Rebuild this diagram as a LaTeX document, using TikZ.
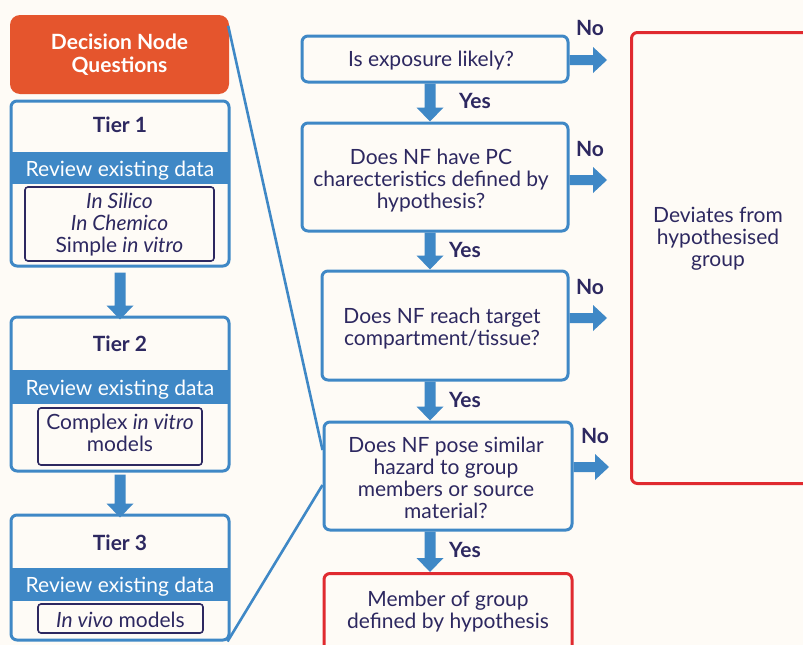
\documentclass[tikz,border=0pt]{standalone}
\usepackage{fontspec}
\setmainfont{Lato}
\usetikzlibrary{calc}
\definecolor{bg}{HTML}{FEFBF6}
\definecolor{blu}{HTML}{3F88C6}
\definecolor{org}{HTML}{E5552D}
\definecolor{rd}{HTML}{E02A2F}
\definecolor{nv}{HTML}{2D2860}

% block arrow pointing down, from #1 to the tip at #2
\newcommand{\blkdown}[2]{%
  \fill[blu] let \p1=(#1), \p2=(#2) in
    (\x1-5.5pt,\y1) -- (\x1+5.5pt,\y1) -- (\x1+5.5pt,\y2+14pt) -- (\x1+13.5pt,\y2+14pt)
    -- (\x1,\y2) -- (\x1-13.5pt,\y2+14pt) -- (\x1-5.5pt,\y2+14pt) -- cycle;}
% block arrow pointing right, from #1 to the tip at #2
\newcommand{\blkright}[2]{%
  \fill[blu] let \p1=(#1), \p2=(#2) in
    (\x1,\y1+5pt) -- (\x2-14pt,\y1+5pt) -- (\x2-14pt,\y1+13pt) -- (\x2,\y1)
    -- (\x2-14pt,\y1-13pt) -- (\x2-14pt,\y1-5pt) -- (\x1,\y1-5pt) -- cycle;}

\begin{document}
\begin{tikzpicture}[x=1pt,y=-1pt,
  every node/.style={font=\fontsize{21}{22}\selectfont, text=nv, align=center, inner sep=0pt},
  txt/.style={yshift=-2.5pt},
  qbox/.style={draw=blu, line width=3pt, rounded corners=6pt, fill=bg},
  rbox/.style={draw=rd, line width=3pt, rounded corners=6pt, fill=bg},
  tbox/.style={draw=blu, line width=3pt, rounded corners=6pt, fill=bg, minimum width=218pt},
  thead/.style={font=\fontsize{21}{22}\selectfont\bfseries},
  band/.style={fill=blu, text=white, minimum width=218pt},
  ibox/.style={draw=nv, line width=1.6pt, rounded corners=3pt, fill=bg},
  lbl/.style={font=\fontsize{21}{22}\selectfont\bfseries},
  link/.style={draw=blu, line width=2.6pt}
]
\fill[bg] (0,0) rectangle (803,645);
\useasboundingbox (0,0) rectangle (803,645);
\clip (0,0) rectangle (803,645);

% ---- left column: decision node header and tiers ----
\node[fill=org, rounded corners=10pt, minimum width=219pt, minimum height=79pt,
      text=white, font=\fontsize{21}{23}\selectfont\bfseries] (dn) at (119.5,54.5) {Decision Node\\Questions};

\node[tbox, minimum height=165pt] (t1) at (120,183.5) {};
\node[thead] (t1h) at (120,125) {Tier 1};
\node[band, minimum height=32pt] (t1b) at (120,168) {};
\node[txt, text=white] (t1bt) at (120,168) {Review existing data};
\node[ibox, minimum width=189pt, minimum height=74pt] (t1i) at (119.5,224) {};
\node[txt] (t1t) at (119.5,222) {\textit{In Silico}\\\textit{In Chemico}\\Simple \textit{in vitro}};

\node[tbox, minimum height=154pt] (t2) at (120,394) {};
\node[thead] (t2h) at (120,344) {Tier 2};
\node[band, minimum height=34pt] (t2b) at (120,387) {};
\node[txt, text=white] (t2bt) at (120,387) {Review existing data};
\node[ibox, minimum width=164pt, minimum height=57pt] (t2i) at (120,436.5) {};
\node[txt] (t2t) at (120,430) {Complex \textit{in vitro}\\models};

\node[tbox, minimum height=125pt] (t3) at (120,577.5) {};
\node[thead] (t3h) at (120,543) {Tier 3};
\node[band, minimum height=33pt] (t3b) at (120,584.5) {};
\node[txt, text=white] (t3bt) at (120,584.5) {Review existing data};
\node[ibox, minimum width=165pt, minimum height=29pt] (t3i) at (120.5,618.5) {};
\node[txt] (t3t) at (120.5,617) {\textit{In vivo} models};

\blkdown{$(t1.south)+(0,5)$}{$(t2.north)+(0,4)$}
\blkdown{$(t2.south)+(0,2)$}{$(t3.north)+(0,4)$}

% ---- right column: decision questions ----
\node[qbox, minimum width=266pt, minimum height=46pt] (q1) at (435,59) {};
\node[txt] (q1t) at (431,58) {Is exposure likely?};
\node[qbox, minimum width=266pt, minimum height=108pt] (q2) at (435,177) {};
\node[txt] (q2t) at (431,178.5) {Does NF have PC\\charecteristics defined by\\hypothesis?};
\node[qbox, minimum width=246pt, minimum height=109pt] (q3) at (445,325.5) {};
\node[txt] (q3t) at (442,326) {Does NF reach target\\compartment/tissue?};
\node[qbox, minimum width=248pt, minimum height=108pt] (q4) at (448,476) {};
\node[txt] (q4t) at (446,475) {Does NF pose similar\\hazard to group\\members or source\\material?};

\node[rbox, minimum width=248pt, minimum height=84pt, anchor=north] (mem) at (448,572) {};
\node[txt] (memt) at (448,609) {Member of group\\defined by hypothesis};

\node[rbox, minimum width=200pt, minimum height=451pt, anchor=north west] (dev) at (630,31) {};
\node[txt] (devt) at (718,236) {Deviates from\\hypothesised\\group};

% links from the left column to the final question
\draw[link] ($(dn.north east)+(-1,11)$) -- ($(q4.west)+(0,-26)$);
\draw[link] ($(t3.south east)+(-3,0)$) -- ($(q4.west)+(0,9)$);

% "Yes" arrows
\coordinate (yx) at (430,0);
\blkdown{q1.south -| yx}{q2.north -| yx}
\blkdown{q2.south -| yx}{q3.north -| yx}
\blkdown{q3.south -| yx}{q4.north -| yx}
\blkdown{q4.south -| yx}{mem.north -| yx}
\node[lbl] (y1) at (475,101) {Yes};
\node[lbl] (y2) at (465,250) {Yes};
\node[lbl] (y3) at (465,400) {Yes};
\node[lbl] (y4) at (465,550) {Yes};

% "No" arrows
\coordinate (n1) at (607,60);
\coordinate (n2) at (607,180);
\coordinate (n3) at (607,318);
\coordinate (n4) at (609,467);
\blkright{q1.east |- n1}{n1}
\blkright{q2.east |- n2}{n2}
\blkright{q3.east |- n3}{n3}
\blkright{q4.east |- n4}{n4}
\node[lbl] (no1) at (590,28) {No};
\node[lbl] (no2) at (590,149) {No};
\node[lbl] (no3) at (590,287) {No};
\node[lbl] (no4) at (595,436) {No};
\end{tikzpicture}
\end{document}
